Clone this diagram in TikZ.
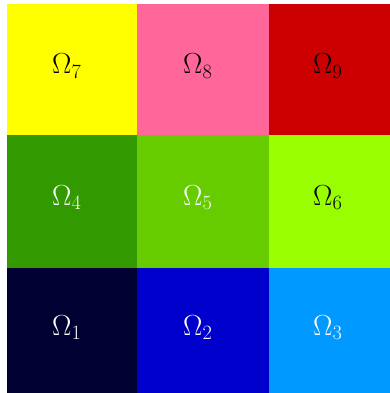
\RequirePackage{fix-cm}
\documentclass[tikz,border=0pt]{standalone}
\usepackage{xcolor}
\definecolor{c7}{HTML}{FFFF00}
\definecolor{c8}{HTML}{FF6699}
\definecolor{c9}{HTML}{CC0000}
\definecolor{c4}{HTML}{339900}
\definecolor{c5}{HTML}{66CC00}
\definecolor{c6}{HTML}{99FF00}
\definecolor{c1}{HTML}{000033}
\definecolor{c2}{HTML}{0000CC}
\definecolor{c3}{HTML}{0099FF}
\tikzset{lbl/.style={font=\fontsize{29}{33}\selectfont, inner sep=0pt, anchor=base west}}
\begin{document}
\begin{tikzpicture}[x=1pt,y=-1pt]
\useasboundingbox (0,0) rectangle (390,393);
\fill[white] (0,0) rectangle (390,393);
% row 1 (top)
\fill[c7] (7,4.5) rectangle (137,135);
\fill[c8] (137,4.5) rectangle (269,135);
\fill[c9] (269,4.5) rectangle (390,135);
% row 2
\fill[c4] (7,135) rectangle (137,268);
\fill[c5] (137,135) rectangle (269,268);
\fill[c6] (269,135) rectangle (390,268);
% row 3
\fill[c1] (7,268) rectangle (137,393);
\fill[c2] (137,268) rectangle (269,393);
\fill[c3] (269,268) rectangle (390,393);
% labels
\node[lbl, text=black] (o7) at (52,74) {$\Omega_7$};
\node[lbl, text=black] (o8) at (183,74) {$\Omega_8$};
\node[lbl, text=black] (o9) at (313,74) {$\Omega_9$};
\node[lbl, text=white] (o4) at (52,205) {$\Omega_4$};
\node[lbl, text=white] (o5) at (183,205) {$\Omega_5$};
\node[lbl, text=black] (o6) at (313,205) {$\Omega_6$};
\node[lbl, text=white] (o1) at (52,335) {$\Omega_1$};
\node[lbl, text=white] (o2) at (183,335) {$\Omega_2$};
\node[lbl, text=white] (o3) at (313,335) {$\Omega_3$};
\end{tikzpicture}
\end{document}
